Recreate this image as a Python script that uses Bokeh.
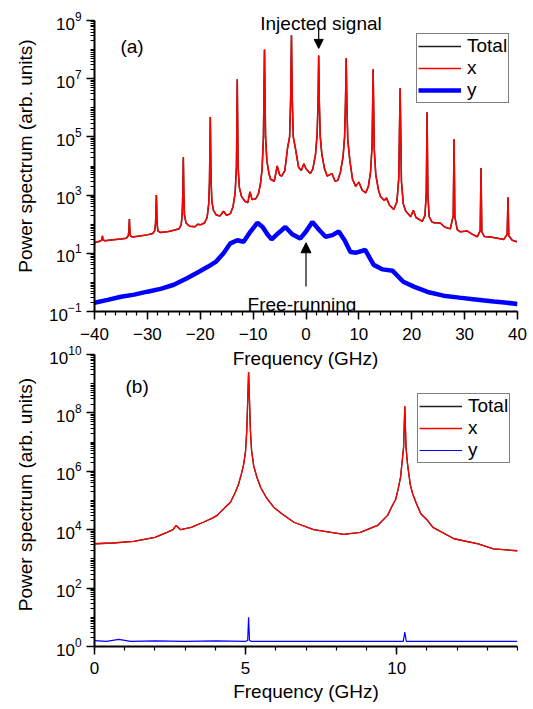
from bokeh.plotting import figure
from bokeh.layouts import column
from bokeh.models import (Range1d, FixedTicker, Label, Arrow, NormalHead,
                          Legend, LegendItem)
from bokeh.embed import file_html
from bokeh.resources import INLINE

FONT = "Liberation Sans"

# ---------------- panel (a) data ----------------
a_x_freq = [
    -40.0, -39.3, -38.8, -38.6, -38.5, -38.4, -38.0, -36.5, -35.0, -34.0,
    -33.6, -33.5, -33.4, -33.3, -33.2, -32.8, -31.5, -30.0, -29.0, -28.6,
    -28.45, -28.3, -28.15, -28.0, -27.5, -26.0, -25.0, -24.0, -23.6, -23.4,
    -23.3, -23.2, -23.1, -23.0, -22.7, -22.0, -21.0, -20.5, -20.0, -19.2,
    -18.7, -18.4, -18.25, -18.1, -17.95, -17.8, -17.5, -17.0, -16.3, -15.6,
    -15.0, -14.3, -13.8, -13.4, -13.15, -13.0, -12.85, -12.6, -12.2, -11.5,
    -11.0, -10.6, -10.2, -9.5, -9.0, -8.6, -8.3, -8.05, -7.85, -7.65,
    -7.4, -7.0, -6.7, -6.0, -5.45, -5.0, -4.6, -4.0, -3.5, -3.1,
    -2.9, -2.75, -2.6, -2.4, -2.0, -1.4, -0.9, -0.4, 0.0, 0.8,
    1.3, 1.8, 2.1, 2.28, 2.4, 2.52, 2.7, 3.0, 3.5, 4.0,
    4.9, 5.5, 6.0, 6.5, 7.0, 7.3, 7.47, 7.6, 7.73, 7.9,
    8.3, 8.8, 9.4, 10.0, 10.6, 11.3, 11.8, 12.2, 12.5, 12.7,
    12.9, 13.2, 13.7, 14.1, 14.8, 15.2, 15.8, 16.6, 17.2, 17.55,
    17.8, 18.05, 18.4, 18.8, 19.1, 19.8, 20.3, 20.8, 22.0, 22.5,
    22.75, 22.9, 23.05, 23.3, 23.8, 24.2, 25.4, 26.2, 27.3, 27.85,
    28.0, 28.15, 28.6, 29.2, 30.5, 31.5, 32.4, 32.95, 33.1, 33.25,
    33.7, 34.9, 36.5, 37.4, 38.05, 38.2, 38.35, 39.0, 39.9]
a_x_power = [
    23, 25, 27, 30, 40, 29, 27, 29, 31, 33,
    40, 60, 150, 55, 40, 36, 39, 43, 48, 60,
    110, 1000, 100, 58, 52, 56, 62, 70, 95, 250,
    1200, 2.0e4, 1000, 220, 110, 85, 82, 100, 95, 110,
    170, 500, 3.0e3, 4.8e5, 3.0e3, 600, 300, 210, 190, 280,
    200, 230, 400, 1200, 1.0e4, 9.5e6, 1.0e4, 1800, 900, 600,
    550, 1300, 700, 750, 1100, 2500, 8000, 1.0e5, 1.0e8, 1.0e5,
    1.5e4, 5500, 3500, 3000, 1.0e4, 5000, 4500, 7000, 4.0e4, 1.0e5,
    2.0e6, 3.1e8, 2.0e6, 1.0e5, 4.0e4, 9000, 7000, 1.2e4, 8000, 5500,
    8000, 2.5e4, 1.2e5, 1.5e6, 6.3e7, 1.5e6, 1.0e5, 2.5e4, 8000, 4500,
    5500, 3000, 3200, 6000, 2.0e4, 1.0e5, 1.5e6, 5.0e7, 1.3e6, 8.0e4,
    1.5e4, 3500, 2000, 2800, 1500, 1200, 2000, 6000, 5.0e4, 2.1e7,
    4.0e4, 5000, 1500, 900, 650, 800, 450, 320, 600, 4000,
    4.7e6, 3000, 500, 300, 250, 180, 300, 170, 126, 200,
    1200, 7.0e5, 1000, 180, 120, 112, 110, 80, 69, 200,
    8.3e4, 180, 65, 55, 58, 45, 37, 60, 8.5e3, 55,
    38, 36, 32, 30, 45, 850, 40, 28, 25]

a_y_freq = [-40, -37.5, -35, -32.5, -30, -27.5, -25, -22.5, -20.5, -18.5,
            -17, -15.6, -14.3, -13, -11.8, -10.5, -9.2, -8.2, -7.3, -6.5,
            -5.2, -3.9, -2.6, -1.1, 0.0, 1.2, 2.5, 3.7, 5.0, 6.2,
            7.3, 8.4, 9.5, 11.2, 12.8, 14.5, 16.4, 18.4, 20.5, 23,
            26, 29, 32, 35.5, 38, 40]
a_y_power = [0.20, 0.25, 0.32, 0.38, 0.48, 0.6, 0.83, 1.4, 2.2, 3.5,
             5.2, 10, 22, 28, 25, 56, 112, 80, 45, 30,
             50, 80, 45, 32, 56, 120, 63, 37, 42, 56,
             28, 11, 10.5, 13, 4.0, 2.8, 2.5, 1.05, 0.7, 0.47,
             0.35, 0.30, 0.26, 0.22, 0.2, 0.18]

# ---------------- panel (b) data ----------------
b_x_freq = [0.0, 0.6, 1.3, 2.0, 2.4, 2.6, 2.7, 2.85, 3.2, 3.6,
            3.9, 4.06, 4.3, 4.5, 4.65, 4.77, 4.86, 4.94, 5.0, 5.04,
            5.1, 5.16, 5.2, 5.27, 5.38, 5.5, 5.7, 5.93, 6.2, 6.6,
            7.25, 8.25, 8.8, 9.37, 9.7, 9.85, 9.97, 10.05, 10.13, 10.23,
            10.27, 10.31, 10.36, 10.45, 10.53, 10.65, 10.8, 11.0, 11.2, 11.9,
            12.7, 13.2, 14.0]
b_x_power = [3300, 3500, 4000, 5500, 8100, 1.0e4, 1.4e4, 1.0e4, 1.2e4, 1.8e4,
             2.5e4, 3.1e4, 5.5e4, 8.7e4, 1.8e5, 3.7e5, 8.0e5, 1.8e6, 5.0e6, 2.5e7,
             2.5e9, 2.5e7, 5.0e6, 1.5e6, 6.0e5, 2.8e5, 1.2e5, 5.9e4, 3.5e4, 1.8e4,
             1.0e4, 6.9e3, 8.1e3, 1.4e4, 3.1e4, 6.5e4, 1.1e5, 2.5e5, 6.3e5, 6.7e6,
             1.7e8, 6.7e6, 1.8e6, 3.5e5, 1.7e5, 8.0e4, 3.5e4, 2.2e4, 1.2e4, 4.9e3,
             3.3e3, 2.2e3, 1.9e3]

b_y_freq = [0.0, 0.4, 0.8, 1.2, 2.0, 3.0, 4.0, 5.0, 5.07, 5.1,
            5.13, 5.2, 6.5, 8.0, 9.5, 10.22, 10.27, 10.32, 11.5, 14.0]
b_y_power = [1.6, 1.5, 1.75, 1.5, 1.55, 1.5, 1.55, 1.5, 1.6, 10,
             1.6, 1.5, 1.5, 1.5, 1.5, 1.5, 3.1, 1.5, 1.5, 1.5]

# ---------------- ticks / axis extents ----------------
a_xticks = [-40, -30, -20, -10, 0, 10, 20, 30, 40]
a_xminor = [v for v in range(-40, 41, 2)]
a_yticks = [1e-1, 1e1, 1e3, 1e5, 1e7, 1e9]
a_ybounds = (1e-1, 1e9)
b_xticks = [0, 5, 10]
b_xminor = [v for v in range(0, 15)]
b_yticks = [1e0, 1e2, 1e4, 1e6, 1e8, 1e10]
b_ybounds = (1e0, 1e10)


def log_minor(lo, hi):
    return [m * 10.0 ** e for e in range(lo, hi) for m in range(1, 10)] + [10.0 ** hi]


def style(p, xt, xm, yt, ym, yb):
    p.xaxis.ticker = FixedTicker(ticks=xt, minor_ticks=xm)
    p.yaxis.ticker = FixedTicker(ticks=yt, minor_ticks=ym)
    p.yaxis.bounds = yb
    p.grid.visible = False
    p.outline_line_color = None
    p.background_fill_color = None
    p.border_fill_color = None
    for ax in p.axis:
        ax.axis_line_width = 2
        ax.axis_line_color = "black"
        ax.major_tick_line_width = 1.5
        ax.minor_tick_line_width = 1.2
        ax.major_tick_line_color = "black"
        ax.minor_tick_line_color = "black"
        ax.major_tick_out = 8
        ax.major_tick_in = 0
        ax.minor_tick_out = 4
        ax.minor_tick_in = 0
        ax.major_label_text_font = FONT
        ax.major_label_text_font_size = "17px"
        ax.major_label_text_color = "black"
        ax.axis_label_text_font = FONT
        ax.axis_label_text_font_size = "19px"
        ax.axis_label_text_font_style = "normal"
        ax.axis_label_text_color = "black"
    p.yaxis.axis_label = "Power spectrum (arb. units)"
    p.yaxis.major_label_standoff = 5
    p.yaxis.axis_label_standoff = 10


def make_legend(p, renderers, loc):
    lg = Legend(items=[LegendItem(label="Total", renderers=[renderers[0]]),
                       LegendItem(label="x", renderers=[renderers[1]]),
                       LegendItem(label="y", renderers=[renderers[2]])],
                location=loc)
    lg.label_text_font = FONT
    lg.label_text_font_size = "19px"
    lg.label_text_color = "black"
    lg.glyph_width = 43
    lg.glyph_height = 18
    lg.label_height = 18
    lg.label_standoff = 6
    lg.spacing = 0
    lg.padding = 1
    lg.margin = 0
    lg.border_line_color = "black"
    lg.border_line_width = 1
    lg.background_fill_color = "white"
    lg.background_fill_alpha = 1
    p.add_layout(lg)


def text_label(p, x, y, txt, units="data"):
    p.add_layout(Label(x=x, y=y, x_units=units, y_units=units, text=txt,
                       text_font=FONT, text_font_size="19px",
                       text_align="center", text_baseline="alphabetic",
                       text_color="black"))


# ---------------- panel (a) ----------------
# frame reaches the top of the canvas so that the annotation above 10^9 shows;
# the y axis itself is bounded to 10^-1 .. 10^9
pa = figure(width=533, height=342, y_axis_type="log",
            x_range=Range1d(-40, 40), y_range=Range1d(1e-1, 4.87e9),
            output_backend="svg", toolbar_location=None,
            min_border_left=94, min_border_right=16,
            min_border_top=0, min_border_bottom=31)
style(pa, a_xticks, a_xminor, a_yticks, log_minor(-1, 9), a_ybounds)
pa.xaxis.major_label_standoff = 8

ra_t = pa.line(a_x_freq, a_x_power, line_color="#202020", line_width=1.5)
ra_x = pa.line(a_x_freq, a_x_power, line_color="#ff0000", line_width=1.5)
ra_y = pa.line(a_y_freq, a_y_power, line_color="#0000ff", line_width=4.5)
make_legend(pa, [ra_t, ra_x, ra_y], (322, 208))

text_label(pa, -32.9, 1.3e8, "(a)")
# screen units: offsets from the frame's lower-left corner
text_label(pa, 207.5, 7, "Free-running", units="screen")
text_label(pa, 226.5, 288, "Injected signal", units="screen")
pa.add_layout(Arrow(end=NormalHead(size=9, line_color="black", fill_color="black",
                                   line_width=1),
                    x_start=2.4, y_start=5.3e8, x_end=2.4, y_end=1.1e8,
                    line_color="black", line_width=1.2))
pa.add_layout(Arrow(end=NormalHead(size=10, line_color="black", fill_color="black",
                                   line_width=1),
                    x_start=0.0, y_start=0.72, x_end=0.0, y_end=23,
                    line_color="black", line_width=1.2))

# ---------------- panel (b) ----------------
pb = figure(width=533, height=366, y_axis_type="log",
            x_range=Range1d(0, 14), y_range=Range1d(1e0, 2.58e10),
            output_backend="svg", toolbar_location=None,
            min_border_left=94, min_border_right=16,
            min_border_top=0, min_border_bottom=62)
style(pb, b_xticks, b_xminor, b_yticks, log_minor(0, 10), b_ybounds)
pb.xaxis.major_label_standoff = 7
pb.xaxis.axis_label = "Frequency (GHz)"
pb.xaxis.axis_label_standoff = 4

rb_t = pb.line(b_x_freq, b_x_power, line_color="#202020", line_width=1.3)
rb_x = pb.line(b_x_freq, b_x_power, line_color="#ff0000", line_width=1.3)
rb_y = pb.line(b_y_freq, b_y_power, line_color="#0000ff", line_width=1.2)
make_legend(pb, [rb_t, rb_x, rb_y], (323, 183))

text_label(pb, 1.41, 8e8, "(b)")
# x-axis title of panel (a), drawn in the strip shared with panel (b)
text_label(pb, 211, 288, "Frequency (GHz)", units="screen")

layout = column(pa, pb, spacing=0)
open("out.html", "w").write(file_html(layout, INLINE))
